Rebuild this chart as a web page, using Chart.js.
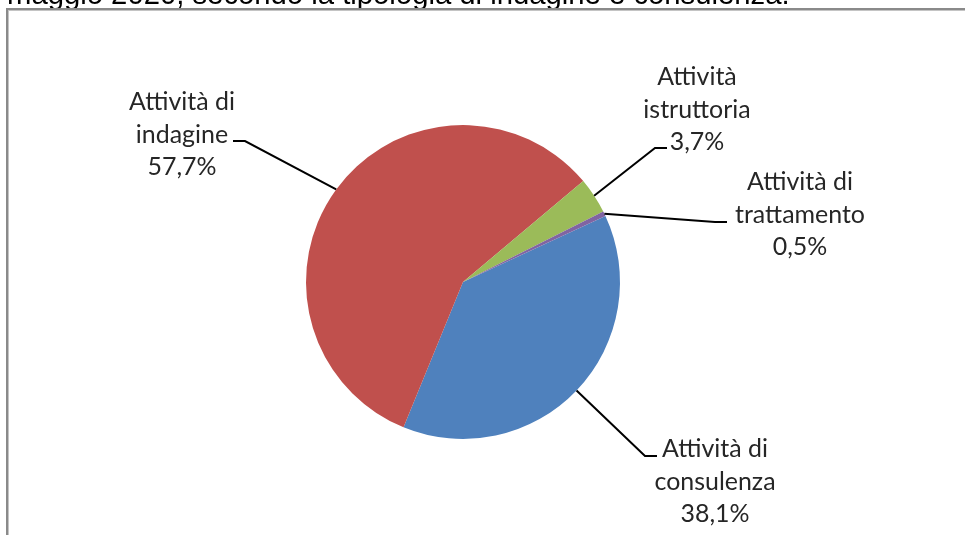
<!DOCTYPE html>
<html>
<head>
<meta charset="utf-8">
<script src="https://cdn.jsdelivr.net/npm/chart.js@4.4.1/dist/chart.umd.min.js"></script>
<style>
  html, body { margin: 0; padding: 0; background: #fff; }
  #wrap { width: 965px; height: 535px; position: relative; }
</style>
</head>
<body>
<div id="wrap"><canvas id="pieChart" width="965" height="535"></canvas></div>
<script>
// data
const categories = [
  ['Attività di', 'consulenza'],
  ['Attività di', 'indagine'],
  ['Attività', 'istruttoria'],
  ['Attività di', 'trattamento']
];
const shares = [38.1, 57.7, 3.7, 0.5];
const sliceColors = ['#4F81BD', '#C0504D', '#9BBB59', '#8064A2'];
const titleText = 'maggio 2020, secondo la tipologia di indagine e consulenza.';

// label placement: centre x, first baseline, elbow point, line end
const labelLayout = [
  { x: 715, y: 457, elbow: [645, 456], end: [657, 456] },
  { x: 182, y: 110, elbow: [245, 141], end: [233, 141] },
  { x: 697, y: 85,  elbow: [655, 148], end: [667, 148] },
  { x: 800, y: 190, elbow: [715, 222], end: [727, 222] }
];
const lineGap = 32.5;

const framePlugin = {
  id: 'frame',
  beforeDraw(chart) {
    const c = chart.ctx;
    c.save();
    c.fillStyle = '#fff';
    c.fillRect(0, 0, chart.width, chart.height);
    // cut-off caption above the box
    let size = 20;
    c.font = size + 'px "Liberation Sans", Arial, sans-serif';
    size = size * 783 / c.measureText(titleText).width;
    c.font = size.toFixed(2) + 'px "Liberation Sans", Arial, sans-serif';
    c.fillStyle = '#000';
    c.textBaseline = 'alphabetic';
    c.fillText(titleText, 7, 4);
    // box border
    c.fillStyle = '#8a8a8a';
    c.fillRect(6, 8, chart.width - 6, 2);
    c.fillRect(6, 8, 2, chart.height - 8);
    c.fillStyle = '#c4c4c4';
    c.fillRect(8, 10, chart.width - 8, 1);
    c.fillRect(8, 10, 1, chart.height - 10);
    c.restore();
  }
};

const labelPlugin = {
  id: 'leaderLabels',
  afterDatasetsDraw(chart) {
    const c = chart.ctx;
    const arcs = chart.getDatasetMeta(0).data;
    c.save();
    // size the label font so "trattamento" is ~130px wide, as in the reference
    c.font = '20px Lato, "Open Sans", sans-serif';
    const fs = 20 * 130 / c.measureText('trattamento').width;
    arcs.forEach((arc, i) => {
      const p = arc.getProps(['x', 'y', 'startAngle', 'endAngle', 'outerRadius'], true);
      const mid = (p.startAngle + p.endAngle) / 2;
      const ex = p.x + Math.cos(mid) * p.outerRadius;
      const ey = p.y + Math.sin(mid) * p.outerRadius;
      const L = labelLayout[i];
      c.strokeStyle = '#000';
      c.lineWidth = 2;
      c.beginPath();
      c.moveTo(ex, ey);
      c.lineTo(L.elbow[0], L.elbow[1]);
      c.lineTo(L.end[0], L.end[1]);
      c.stroke();

      const lines = categories[i].concat([shares[i].toFixed(1).replace('.', ',') + '%']);
      c.fillStyle = '#262626';
      c.font = fs.toFixed(2) + 'px Lato, "Open Sans", sans-serif';
      c.textAlign = 'center';
      c.textBaseline = 'alphabetic';
      lines.forEach((t, k) => c.fillText(t, L.x, L.y + k * lineGap));
    });
    c.restore();
  }
};

new Chart(document.getElementById('pieChart'), {
  type: 'pie',
  data: {
    labels: categories,
    datasets: [{
      data: shares,
      backgroundColor: sliceColors,
      borderWidth: 0
    }]
  },
  options: {
    responsive: false,
    animation: false,
    rotation: 65.1,
    layout: { padding: { top: 125, bottom: 96, left: 306, right: 345 } },
    plugins: {
      legend: { display: false },
      tooltip: { enabled: false }
    }
  },
  plugins: [framePlugin, labelPlugin]
});
</script>
</body>
</html>
